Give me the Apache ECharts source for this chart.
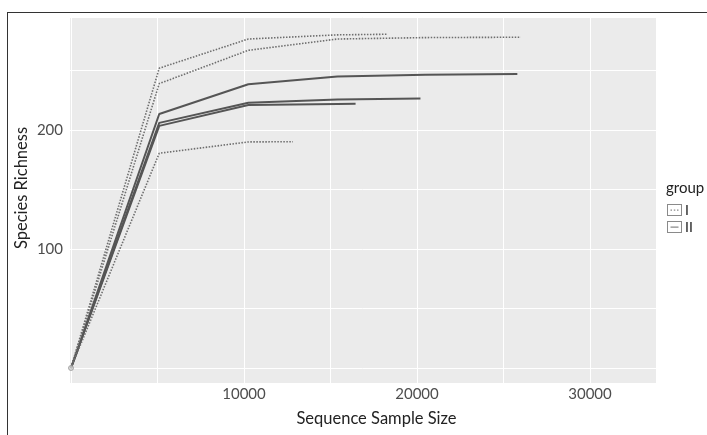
<!DOCTYPE html>
<html>
<head>
<meta charset="utf-8">
<script src="https://cdn.jsdelivr.net/npm/echarts@6/dist/echarts.min.js"></script>
<style>
  html, body { margin: 0; padding: 0; background: #fff; }
  #chart { width: 707px; height: 435px; position: relative; }
  #frame { position: absolute; left: 7px; top: 12px; width: 700px; height: 423px;
           border-left: 1.5px solid #333; border-top: 1.5px solid #333; pointer-events: none; box-sizing: border-box; }
</style>
</head>
<body>
<div id="chart"></div>
<div id="frame"></div>
<script>
// ---- data ----
const groupNames = ['I', 'II'];
const xLabelValues = [10000, 20000, 30000];
const yLabelValues = [100, 200];

// group I (dotted)
const curveI1 = [[0, 0], [5100, 252], [10250, 276.5], [15400, 280], [18300, 280.5]];
const curveI2 = [[0, 0], [5100, 239], [10250, 267], [15400, 276.5], [20500, 277.7], [26000, 278]];
const curveI3 = [[0, 0], [5100, 180.5], [10250, 190], [12830, 190.2]];
// group II (solid)
const curveII1 = [[0, 0], [5100, 213.5], [10250, 238.5], [15400, 245], [20500, 246.5], [25800, 247]];
const curveII2 = [[0, 0], [5100, 206], [10250, 223], [15400, 225.6], [20200, 226.6]];
const curveII3 = [[0, 0], [5100, 203.5], [10250, 221], [15400, 221.8], [16450, 222]];
const startPoint = [[0, 0]];

const groupI = [curveI1, curveI2, curveI3];
const groupII = [curveII1, curveII2, curveII3];

// ---- chart ----
const chart = echarts.init(document.getElementById('chart'), null, { renderer: 'canvas' });
const FONT = 'Lato';

const dottedStyle = { color: '#6e6e6e', width: 1.6, type: [1.5, 1.5] };
const solidStyle = { color: '#555555', width: 2 };

const series = [];
groupII.forEach(d => series.push({
  name: groupNames[1], type: 'line', data: d, showSymbol: false, symbol: 'none',
  lineStyle: solidStyle, itemStyle: { color: '#555' }, silent: true, z: 2
}));
groupI.forEach(d => series.push({
  name: groupNames[0], type: 'line', data: d, showSymbol: false, symbol: 'none',
  lineStyle: dottedStyle, itemStyle: { color: '#6e6e6e' }, silent: true, z: 3
}));
series.push({
  type: 'scatter', data: startPoint, symbol: 'circle', symbolSize: 5,
  itemStyle: { color: '#d0d0d0', borderColor: '#999', borderWidth: 1 }, silent: true, z: 4
});

const iconI = 'path://M0,0 L15,0 L15,12 L0,12 Z M1,1 L1,11 L14,11 L14,1 Z M3.5,5.5 L5,5.5 L5,6.7 L3.5,6.7 Z M6.8,5.5 L8.3,5.5 L8.3,6.7 L6.8,6.7 Z M10,5.5 L11.5,5.5 L11.5,6.7 L10,6.7 Z';
const iconII = 'path://M0,0 L15,0 L15,12 L0,12 Z M1,1 L1,11 L14,11 L14,1 Z M3.5,5.4 L11.5,5.4 L11.5,6.8 L3.5,6.8 Z';

const option = {
  animation: false,
  backgroundColor: '#ffffff',
  title: {
    text: 'group', left: 661, top: 176,
    textStyle: { fontFamily: FONT, fontSize: 15, fontWeight: 'normal', color: '#222' }
  },
  legend: {
    orient: 'vertical', left: 662, top: 198,
    itemWidth: 15, itemHeight: 12, itemGap: 3,
    selectedMode: false,
    textStyle: { fontFamily: FONT, fontSize: 14, color: '#222', padding: [0, 0, 0, -2] },
    data: [
      { name: groupNames[0], icon: iconI, itemStyle: { color: '#8a8a8a', borderWidth: 0 } },
      { name: groupNames[1], icon: iconII, itemStyle: { color: '#8a8a8a', borderWidth: 0 } }
    ]
  },
  grid: {
    left: 69, right: 51, top: 17, bottom: 52,
    show: true, backgroundColor: '#ebebeb', borderWidth: 0
  },
  xAxis: {
    type: 'value', min: -116, max: 33815, splitNumber: 7,
    name: 'Sequence Sample Size', nameLocation: 'middle', nameGap: 27,
    nameTextStyle: { fontFamily: FONT, fontSize: 16.5, color: '#222', padding: [0, 0, 0, 28] },
    axisLine: { show: false },
    axisTick: { show: false },
    axisLabel: {
      fontFamily: FONT, fontSize: 15, color: '#4d4d4d', margin: 4,
      formatter: v => (xLabelValues.indexOf(v) >= 0 ? String(v) : '')
    },
    splitLine: { show: true, lineStyle: { color: '#ffffff', width: 1 } }
  },
  yAxis: {
    type: 'value', min: -12.6, max: 295, splitNumber: 6,
    name: 'Species Richness', nameLocation: 'middle', nameGap: 39, nameMoveOverlap: false,
    nameTextStyle: { fontFamily: FONT, fontSize: 16.5, color: '#222', padding: [0, 0, 0, 24] },
    axisLine: { show: false },
    axisTick: { show: false },
    axisLabel: {
      fontFamily: FONT, fontSize: 15, color: '#4d4d4d', margin: 6,
      formatter: v => (yLabelValues.indexOf(v) >= 0 ? String(v) : '')
    },
    splitLine: { show: true, lineStyle: { color: '#ffffff', width: 1 } }
  },
  series: series
};
chart.setOption(option);
</script>
</body>
</html>
